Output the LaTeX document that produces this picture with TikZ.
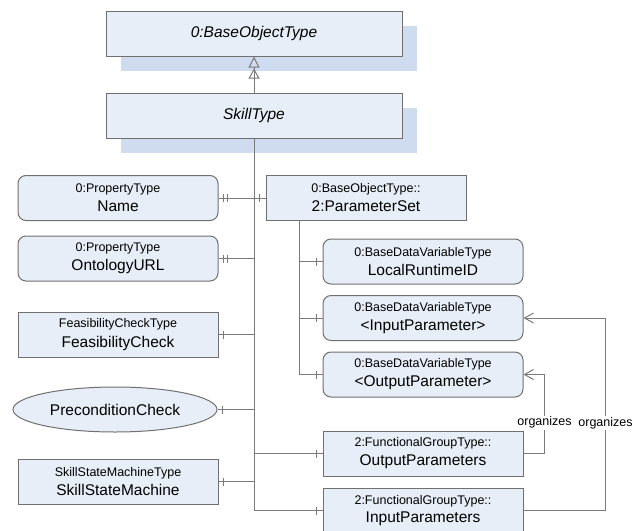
\documentclass[tikz,border=0pt]{standalone}
\usepackage{fontspec}
\setmainfont{Liberation Sans}
\usetikzlibrary{arrows.meta,shapes.geometric,shadows,decorations.markings}
\definecolor{boxfill}{HTML}{E8EEF7}
\definecolor{boxdraw}{HTML}{707070}
\definecolor{linec}{HTML}{7A7A7A}
\definecolor{shadowc}{HTML}{CFDBEE}
\newcommand{\smalltxt}{\fontsize{12.5}{14}\selectfont}
\newcommand{\bigtxt}{\fontsize{15.5}{19}\selectfont}
\newcommand{\twolines}[2]{\smalltxt #1\\[4.5pt]\bigtxt #2}
\begin{document}
\begin{tikzpicture}[x=1pt,y=-1pt,
  box/.style={draw=boxdraw, fill=boxfill, line width=1pt, minimum width=200pt,
    minimum height=45pt, inner sep=0pt, align=center},
  rbox/.style={box, rounded corners=8pt},
  topbox/.style={box, minimum width=296pt, font=\bigtxt\itshape,
    general shadow={fill=shadowc, shadow xshift=14.5pt, shadow yshift=-14.5pt}},
  ebox/.style={draw=boxdraw, fill=boxfill, line width=1pt, ellipse,
    minimum width=204pt, minimum height=45pt, inner sep=0pt, font=\bigtxt},
  conn/.style={draw=linec, line width=1pt},
  tickat/.style={postaction={decorate,decoration={markings,
    mark=at position #1 with {\draw[linec,line width=1pt] (0pt,-4pt)--(0pt,4pt);}}}},
  lbl/.style={fill=white, inner sep=1pt, font=\smalltxt},
  opentip/.style={-{Straight Barb[length=9pt,width=10pt]}}
]
\useasboundingbox (0,0) rectangle (639,530);

\node[topbox] (base) at (254,33.5) {0:BaseObjectType};
\node[topbox] (skill) at (254,115.5) {SkillType};

\node[rbox] (name) at (118,198) {\twolines{0:PropertyType}{Name}};
\node[rbox] (onto) at (118,258.5) {\twolines{0:PropertyType}{OntologyURL}};
\node[box] (feas) at (118,334.5) {\twolines{FeasibilityCheckType}{FeasibilityCheck}};
\node[ebox] (pre) at (115,409.5) {PreconditionCheck};
\node[box] (ssm) at (118,481.5) {\twolines{SkillStateMachineType}{SkillStateMachine}};

\node[box] (pset) at (366,198) {\twolines{0:BaseObjectType::}{2:ParameterSet}};
\node[rbox] (lrid) at (423,261.5) {\twolines{0:BaseDataVariableType}{LocalRuntimeID}};
\node[rbox] (inP) at (423,318) {\twolines{0:BaseDataVariableType}{<InputParameter>}};
\node[rbox] (outP) at (423,374.5) {\twolines{0:BaseDataVariableType}{<OutputParameter>}};
\node[box] (outPs) at (423,453.5) {\twolines{2:FunctionalGroupType::}{OutputParameters}};
\node[box] (inPs) at (423,510.5) {\twolines{2:FunctionalGroupType::}{InputParameters}};

\coordinate (trunk) at (skill.south |- inPs.west);
\coordinate (pstrunk) at ([xshift=34pt]pset.south west);

% inheritance
\draw[conn, -{Triangle[open,length=10pt,width=11pt,sep=1pt] Triangle[open,length=11pt,width=11pt]}] (skill.north) -- (base.south);

% main trunk
\draw[conn] (skill.south) -- (trunk);
\draw[conn,tickat=5pt,tickat=9pt,tickat=-6pt] (name.east) -- (pset.west);
\draw[conn,tickat=5pt,tickat=9pt] (onto.east) -- (onto.east -| skill.south);
\draw[conn,tickat=5pt] (feas.east) -- (feas.east -| skill.south);
\draw[conn,tickat=5pt] (pre.east) -- (pre.east -| skill.south);
\draw[conn,tickat=5pt] (ssm.east) -- (ssm.east -| skill.south);
\draw[conn,tickat=-6pt] (skill.south |- outPs.west) -- (outPs.west);
\draw[conn,tickat=-6pt] (trunk) -- (inPs.west);

% parameter set children
\draw[conn] (pstrunk) -- (pstrunk |- outP.west);
\draw[conn,tickat=-6pt] (pstrunk |- lrid.west) -- (lrid.west);
\draw[conn,tickat=-6pt] (pstrunk |- inP.west) -- (inP.west);
\draw[conn,tickat=-6pt] (pstrunk |- outP.west) -- (outP.west);

% organizes
\draw[conn,opentip] (outPs.east) -- ++(21,0) |- node[lbl,pos=0.195] {organizes} (outP.east);
\draw[conn,opentip] (inPs.east) -- ++(82,0) |- node[lbl,pos=0.227] {organizes} (inP.east);
\end{tikzpicture}
\end{document}
